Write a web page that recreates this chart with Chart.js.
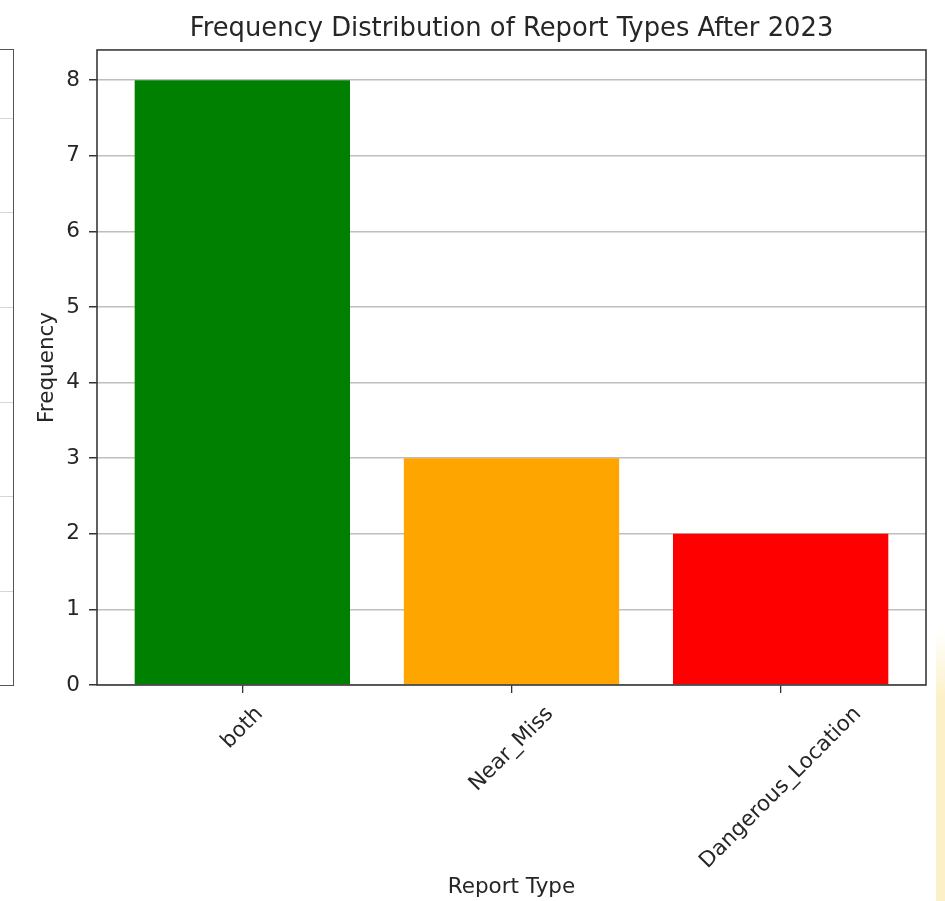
<!DOCTYPE html>
<html>
<head>
<meta charset="utf-8">
<title>Frequency Distribution of Report Types After 2023</title>
<script src="https://cdn.jsdelivr.net/npm/chart.js@4.4.1/dist/chart.umd.min.js"></script>
<style>
    html, body { margin: 0; padding: 0; background: #fff; }
    #wrap { position: relative; width: 945px; height: 901px; overflow: hidden; }
    /* edge of the neighbouring figure, cut off on the left */
    #neighbour {
        position: absolute; left: 0; top: 49px; width: 13px; height: 635px;
        border: 1.5px solid #555; border-left: none;
        background: repeating-linear-gradient(to bottom, transparent 0 93.7px, #d6d6d6 93.7px 94.7px);
        background-position: 0 -26px;
    }
    #glow {
        position: absolute; left: 936px; top: 630px; width: 9px; height: 271px;
        background: linear-gradient(to bottom, rgba(252, 244, 205, 0), #fbf1c8 25%, #fbf1c8);
    }
    canvas { position: absolute; left: 0; top: 0; }
</style>
</head>
<body>
<div id="wrap">
    <div id="neighbour"></div>
    <div id="glow"></div>
    <canvas id="chart" width="945" height="901"></canvas>
</div>
<script>
const reportTypes = ["both", "Near_Miss", "Dangerous_Location"];
const frequencies = [8, 3, 2];
const yTickValues = [0, 1, 2, 3, 4, 5, 6, 7, 8];

const barColors = ["#008000", "#FFA500", "#FF0000"];
const textColor = "#262626";
const fontFamily = "'DejaVu Sans', sans-serif";
const labelSize = 21.5;

// matplotlib style: labels rotated 45deg, centred under the tick, plus a full frame
const mplExtras = {
    id: "mplExtras",
    afterDraw(chart) {
        const { ctx, chartArea, scales } = chart;
        ctx.save();
        ctx.font = `${labelSize}px ${fontFamily}`;
        ctx.fillStyle = textColor;
        ctx.textAlign = "center";
        ctx.textBaseline = "middle";
        const lineH = labelSize * 1.15;
        reportTypes.forEach((name, i) => {
            const w = ctx.measureText(name).width;
            const half = (w + lineH) * Math.SQRT1_2 / 2;
            ctx.save();
            ctx.translate(scales.x.getPixelForValue(i), chartArea.bottom + 17 + half);
            ctx.rotate(-Math.PI / 4);
            ctx.fillText(name, 0, 0);
            ctx.restore();
        });
        ctx.strokeStyle = "#3a3a3a";
        ctx.lineWidth = 1.6;
        ctx.strokeRect(chartArea.left, chartArea.top, chartArea.width, chartArea.height);
        ctx.restore();
    }
};

new Chart(document.getElementById("chart").getContext("2d"), {
    type: "bar",
    data: {
        datasets: [{
            data: frequencies.map((v, i) => ({ x: i, y: v })),
            backgroundColor: barColors,
            borderWidth: 0,
            barPercentage: 0.8,
            categoryPercentage: 1
        }]
    },
    options: {
        responsive: false,
        animation: false,
        layout: { padding: { left: 0, right: 19, top: 0, bottom: 0 } },
        plugins: {
            legend: { display: false },
            tooltip: { enabled: false },
            title: {
                display: true,
                text: "Frequency Distribution of Report Types After 2023",
                fullSize: false,
                color: textColor,
                font: { family: fontFamily, size: 25.8, weight: "normal", lineHeight: 1.2 },
                padding: { top: 14, bottom: 5 }
            }
        },
        scales: {
            x: {
                type: "linear",
                min: -0.54,
                max: 2.54,
                offset: false,
                afterBuildTicks: s => { s.ticks = reportTypes.map((_, i) => ({ value: i })); },
                afterFit: s => { s.height = 216; },
                ticks: { display: false },
                grid: { display: true, offset: false, drawOnChartArea: false, tickColor: "#333", tickLength: 8, lineWidth: 1.3 },
                border: { display: false },
                title: {
                    display: true,
                    text: "Report Type",
                    color: textColor,
                    font: { family: fontFamily, size: labelSize, lineHeight: 1.2 },
                    padding: { top: 0, bottom: 1 }
                }
            },
            y: {
                min: 0,
                max: 8.4,
                z: 1,
                afterBuildTicks: s => { s.ticks = yTickValues.map(v => ({ value: v })); },
                afterFit: s => { s.width = 97; },
                ticks: { color: textColor, font: { family: fontFamily, size: labelSize }, padding: 9 },
                grid: { color: "rgba(170,170,170,0.75)", lineWidth: 1.5, tickColor: "#333", tickLength: 8 },
                border: { display: false },
                title: {
                    display: true,
                    text: "Frequency",
                    color: textColor,
                    font: { family: fontFamily, size: labelSize, lineHeight: 1.2 },
                    padding: { top: 35, bottom: 0 }
                }
            }
        }
    },
    plugins: [mplExtras]
});
</script>
</body>
</html>
